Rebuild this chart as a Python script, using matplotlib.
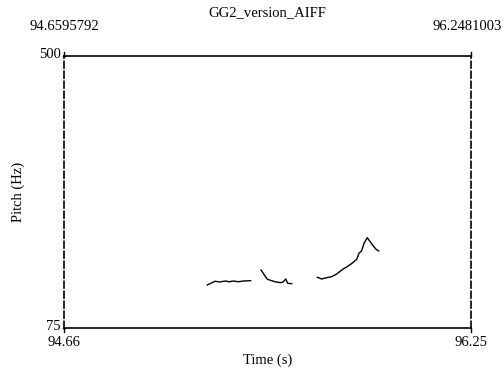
import matplotlib
matplotlib.use("Agg")
import matplotlib.pyplot as plt
import numpy as np

plt.rcParams['font.family'] = ['Liberation Serif', 'DejaVu Serif']

title = "GG2_version_AIFF"
t_start, t_end = 94.6595792, 96.2481003
f_min, f_max = 75, 500

seg1_t = [95.2189, 95.2489, 95.2684, 95.2879, 95.3048, 95.3204, 95.3399, 95.3594, 95.3883]
seg1_f = [142.2, 148.0, 146.9, 148.4, 147.3, 148.4, 147.3, 148.4, 148.9]
seg2_t = [95.4285, 95.4531, 95.4831, 95.5054, 95.5155, 95.5249, 95.5327, 95.5483]
seg2_f = [165.6, 151.1, 147.3, 145.8, 147.3, 151.6, 144.8, 144.2]
seg3_t = [95.6482, 95.6654, 95.6849, 95.7044, 95.7240, 95.7474, 95.7692, 95.7864,
          95.8020, 95.8110, 95.8215, 95.8305, 95.8434, 95.8606, 95.8774, 95.8879]
seg3_f = [154.2, 151.6, 153.6, 155.2, 159.4, 166.7, 171.9, 177.0,
          182.3, 191.7, 195.8, 207.3, 216.1, 206.3, 198.0, 195.3]

W, H = 503, 372
fig = plt.figure(figsize=(W/100, H/100), dpi=100)
l, r, t, b = 64, 471, 56, 328
ax = fig.add_axes([l/W, 1 - b/H, (r-l)/W, (b-t)/H])
ax.set_xlim(t_start, t_end)
ax.set_ylim(f_min, f_max)

for ts, fs in [(seg1_t, seg1_f), (seg2_t, seg2_f), (seg3_t, seg3_f)]:
    ax.plot(ts, fs, color='black', lw=1.0)

ax.set_xticks([])
ax.set_yticks([])
for s in ['top', 'bottom']:
    ax.spines[s].set_linewidth(1.2)
for s in ['left', 'right']:
    ax.spines[s].set_linewidth(1.2)
    ax.spines[s].set_linestyle((0, (4, 2)))

cx = (l + r) / 2
fs_ = 10.5
fig.text(cx/W, 1 - 13/H, title, ha='center', va='center', fontsize=fs_)
fig.text(l/W, 1 - 26/H, f"{t_start:.7f}", ha='center', va='center', fontsize=fs_)
fig.text(502/W, 1 - 26/H, f"{t_end:.7f}", ha='right', va='center', fontsize=fs_)
fig.text(l/W, 1 - 342/H, f"{t_start:.2f}", ha='center', va='center', fontsize=fs_)
fig.text(r/W, 1 - 342/H, f"{t_end:.2f}", ha='center', va='center', fontsize=fs_)
fig.text(cx/W, 1 - 360/H, "Time (s)", ha='center', va='center', fontsize=fs_)
fig.text(61/W, 1 - 55/H, str(f_max), ha='right', va='center', fontsize=fs_)
fig.text(61/W, 1 - 327/H, str(f_min), ha='right', va='center', fontsize=fs_)
fig.text(18/W, 1 - 192/H, "Pitch (Hz)", ha='center', va='center', rotation=90, fontsize=fs_)

# small tick marks at corners
for yv in [f_min, f_max]:
    ax.plot([t_start - 0.004, t_start + 0.004], [yv, yv], color='black', lw=1, clip_on=False)
for xv in [t_start, t_end]:
    ax.plot([xv, xv], [f_min, f_min - 6], color='black', lw=1, clip_on=False)
    ax.plot([xv, xv], [f_max, f_max + 6], color='black', lw=1, clip_on=False)

fig.savefig("out.png", dpi=100)
